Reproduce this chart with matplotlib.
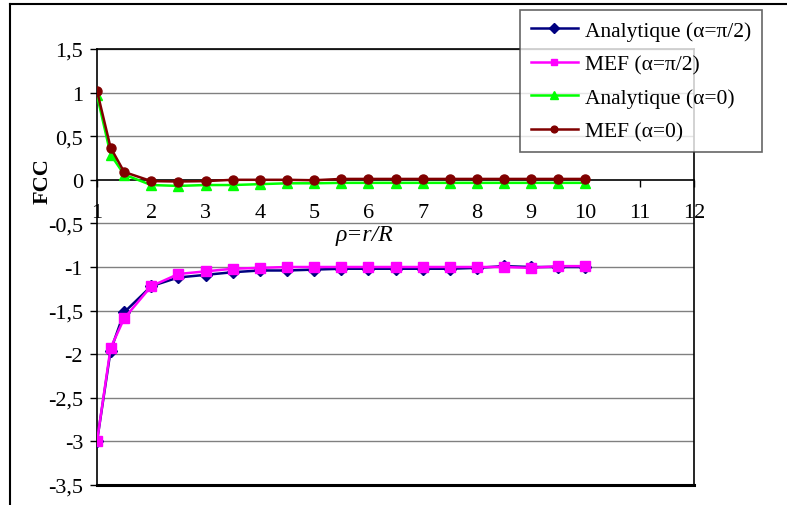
import numpy as np
import matplotlib.pyplot as plt
from matplotlib.lines import Line2D
from matplotlib.ticker import FuncFormatter

plt.rcParams['font.family'] = ['Liberation Serif', 'DejaVu Serif']

# data
rho = [1, 1.25, 1.5, 2, 2.5, 3, 3.5, 4, 4.5, 5, 5.5, 6, 6.5, 7, 7.5, 8, 8.5, 9, 9.5, 10]
ana_pi2 = [-3.0, -1.96, -1.52, -1.22, -1.12, -1.09, -1.06, -1.04, -1.04, -1.03,
           -1.02, -1.02, -1.02, -1.02, -1.02, -1.01, -0.99, -1.0, -1.0, -1.0]
mef_pi2 = [-3.0, -1.93, -1.59, -1.22, -1.08, -1.05, -1.02, -1.01, -1.0, -1.0,
           -1.0, -1.0, -1.0, -1.0, -1.0, -1.0, -1.0, -1.01, -0.99, -0.99]
ana_0 = [0.97, 0.29, 0.06, -0.06, -0.07, -0.06, -0.06, -0.05, -0.04, -0.04,
         -0.035, -0.035, -0.035, -0.035, -0.035, -0.035, -0.035, -0.035, -0.035, -0.035]
mef_0 = [1.02, 0.37, 0.09, -0.015, -0.02, -0.015, 0.0, 0.0, 0.0, -0.005,
         0.01, 0.01, 0.01, 0.01, 0.01, 0.01, 0.01, 0.01, 0.01, 0.01]
labels = ['Analytique (\u03b1=\u03c0/2)', 'MEF (\u03b1=\u03c0/2)',
          'Analytique (\u03b1=0)', 'MEF (\u03b1=0)']

W, H = 787, 506
fig = plt.figure(figsize=(W / 100, H / 100), dpi=100)
ax = fig.add_axes([97 / W, 1 - 486 / H, (694 - 97) / W, (486 - 50) / H])

ax.plot(rho, ana_pi2, color='#000080', marker='D', ms=6.5, lw=1.8, label=labels[0], zorder=3)
ax.plot(rho, mef_pi2, color='#FF00FF', marker='s', ms=6.5, lw=1.8, label=labels[1], zorder=4)
ax.plot(rho, ana_0, color='#00FF00', marker='^', ms=7.5, lw=1.8, label=labels[2], zorder=3)
ax.plot(rho, mef_0, color='#800000', marker='o', ms=6.5, lw=1.8, label=labels[3], zorder=4)

ax.set_xlim(1, 12)
ax.set_ylim(-3.5, 1.5)
ax.set_xticks(range(1, 13))
ax.set_yticks(np.arange(-3.5, 1.51, 0.5))
fmt = FuncFormatter(lambda v, p: ('%g' % v).replace('.', ','))
ax.yaxis.set_major_formatter(fmt)
ax.xaxis.set_major_formatter(fmt)
ax.tick_params(labelsize=16, length=5, width=1, colors='black')
ax.tick_params(axis='y', pad=5)
ax.tick_params(axis='x', pad=12)

for y in np.arange(-3.0, 1.51, 0.5):
    if abs(y) > 1e-9:
        ax.axhline(y, color='#808080', lw=1, zorder=1)

ax.spines['bottom'].set_position(('data', 0))
for s in ax.spines.values():
    s.set_color('black')
    s.set_linewidth(1.2)
ax.axhline(-3.5, color='black', lw=2.2, zorder=2, clip_on=False)

ax.set_ylabel('FCC', fontsize=16, fontweight='bold')
ax.yaxis.set_label_coords(-0.074, 0.70)
ax.text(5.92, -0.63, '\u03c1=r/R', fontsize=17, style='italic', ha='center', va='center')

leg = fig.legend(loc='upper left', bbox_to_anchor=(520 / W, 1 - 11 / H),
                 bbox_transform=fig.transFigure, fontsize=15.5, frameon=True,
                 fancybox=False, edgecolor='#404040', borderaxespad=0,
                 handlelength=2.2, labelspacing=0.62, borderpad=0.5,
                 handletextpad=0.3, markerscale=0.75)
leg.get_frame().set_linewidth(1.2)

# outer chart frame (cropped at right and bottom)
fig.add_artist(Line2D([10 / W, 10 / W], [0, 1 - 5 / H], transform=fig.transFigure, color='black', lw=1.5))
fig.add_artist(Line2D([10 / W, 1], [1 - 5 / H, 1 - 5 / H], transform=fig.transFigure, color='black', lw=1.5))

fig.savefig('out.png', dpi=100)
